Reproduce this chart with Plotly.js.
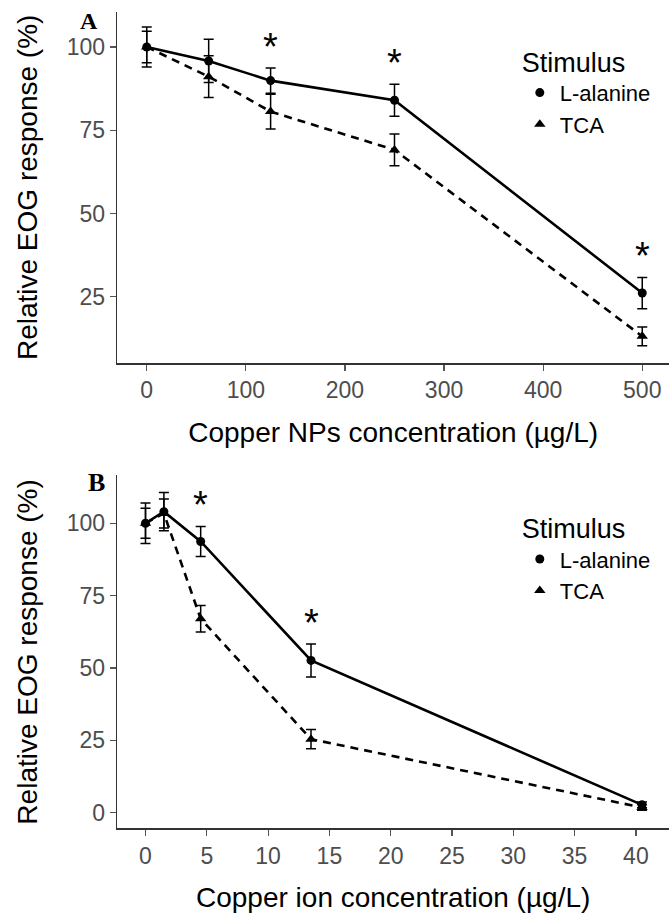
<!DOCTYPE html>
<html>
<head>
<meta charset="utf-8">
<script src="https://cdn.plot.ly/plotly-3.0.1.min.js"></script>
<style>html,body{margin:0;padding:0;background:#fff}#chart{width:669px;height:918px}</style>
</head>
<body>
<div id="chart"></div>
<script>
// Panel A: copper nanoparticles
const concA = [0, 62.5, 125, 250, 500];
const alaA = [100, 95.8, 89.9, 84.0, 26.1];
const alaAse = [6.0, 6.5, 3.8, 4.8, 4.7];
const tcaA = [100, 91.1, 80.6, 69.1, 13.1];
const tcaAse = [4.7, 6.3, 5.2, 4.8, 2.8];
const sigA = [125, 250, 500];
const ticksA = [0, 100, 200, 300, 400, 500];

// Panel B: copper ions
const concB = [0, 1.5, 4.5, 13.5, 40.5];
const alaB = [100, 104.0, 93.7, 52.6, 2.7];
const alaBse = [7.0, 6.6, 5.2, 5.7, 1.0];
const tcaB = [100, 103.4, 67.0, 25.4, 1.8];
const tcaBse = [5.2, 5.0, 4.6, 3.3, 1.0];
const sigB = [4.5, 13.5];
const ticksB = [0, 5, 10, 15, 20, 25, 30, 35, 40];
const ticksY = [0, 25, 50, 75, 100];

const seriesNames = ['L-alanine', 'TCA'];

const FONT = '"Liberation Sans", Arial, sans-serif';
const INK = '#000';

function panel(x, ala, alaSe, tca, tcaSe, xa, ya, leg) {
  const mk = (y, se, name, sym, size, dash) => [
    {x: x, y: y, type: 'scatter', mode: 'lines', xaxis: xa, yaxis: ya,
     line: {color: INK, width: 2.6, dash: dash}, showlegend: false, hoverinfo: 'skip'},
    {x: x, y: y, type: 'scatter', mode: 'markers', name: name, xaxis: xa, yaxis: ya,
     legend: leg, showlegend: true,
     marker: {color: INK, symbol: sym, size: size},
     error_y: {type: 'data', array: se, visible: true, color: INK, thickness: 1.5, width: 5}}
  ];
  return mk(tca, tcaSe, seriesNames[1], 'triangle-up', 10, '8px,6px')
    .concat(mk(ala, alaSe, seriesNames[0], 'circle', 9, 'solid'));
}

const traces = []
  .concat(panel(concA, alaA, alaAse, tcaA, tcaAse, 'x', 'y', 'legend'))
  .concat(panel(concB, alaB, alaBse, tcaB, tcaBse, 'x2', 'y2', 'legend2'));
traces.forEach(t => { if (t.name === 'L-alanine') t.legendrank = 1; if (t.name === 'TCA') t.legendrank = 2; });

function stars(sig, x, ala, se, tca, tse, xref, yref) {
  return sig.map(s => {
    const i = x.indexOf(s);
    const top = Math.max(ala[i] + se[i], tca[i] + tse[i]);
    return {x: s, y: top, xref: xref, yref: yref, text: '*', showarrow: false,
            yanchor: 'middle', yshift: 21,
            font: {family: FONT, size: 38, color: INK}};
  });
}

const axisCommon = {
  showgrid: false, zeroline: false, showline: true, linecolor: '#333', linewidth: 1.6,
  ticks: 'outside', ticklen: 6, tickwidth: 1.2, tickcolor: '#555',
  tickfont: {family: FONT, size: 23, color: '#4d4d4d'}, fixedrange: true
};

const yTitle = {text: 'Relative EOG response (%)', font: {family: FONT, size: 28, color: INK}, standoff: 21};

const layout = {
  width: 669, height: 918,
  margin: {l: 0, r: 0, t: 0, b: 0},
  paper_bgcolor: '#fff', plot_bgcolor: '#fff',
  font: {family: FONT, color: INK},
  xaxis: Object.assign({}, axisCommon, {domain: [0.17534, 1], range: [-29.7, 527], tickvals: ticksA,
    anchor: 'y', title: {text: 'Copper NPs concentration (µg/L)', font: {family: FONT, size: 28, color: INK}, standoff: 20}}),
  yaxis: Object.assign({}, axisCommon, {domain: [0.6046, 0.98725], range: [5.1, 110.6], tickvals: ticksY.slice(1),
    anchor: 'x', title: yTitle}),
  xaxis2: Object.assign({}, axisCommon, {domain: [0.17534, 1], range: [-2.3, 42.7], tickvals: ticksB,
    anchor: 'y2', title: {text: 'Copper ion concentration (µg/L)', font: {family: FONT, size: 28, color: INK}, standoff: 20}}),
  yaxis2: Object.assign({}, axisCommon, {domain: [0.09771, 0.48203], range: [-5.4, 116.5], tickvals: ticksY,
    anchor: 'x2', title: Object.assign({}, yTitle)}),
  legend: {x: 0.777, y: 0.960, xanchor: 'left', yanchor: 'top', bgcolor: 'rgba(0,0,0,0)',
    title: {text: 'Stimulus', font: {family: FONT, size: 27, color: INK}},
    font: {family: FONT, size: 22, color: INK}, traceorder: 'normal', itemwidth: 30},
  legend2: {x: 0.777, y: 0.452, xanchor: 'left', yanchor: 'top', bgcolor: 'rgba(0,0,0,0)',
    title: {text: 'Stimulus', font: {family: FONT, size: 27, color: INK}},
    font: {family: FONT, size: 22, color: INK}, traceorder: 'normal', itemwidth: 30},
  annotations: [
    {x: 0.133, y: 0.9768, xref: 'paper', yref: 'paper', text: '<b>A</b>', showarrow: false,
     xanchor: 'center', yanchor: 'middle', font: {family: '"Liberation Serif", "Times New Roman", serif', size: 24, color: INK}},
    {x: 0.1435, y: 0.4739, xref: 'paper', yref: 'paper', text: '<b>B</b>', showarrow: false,
     xanchor: 'center', yanchor: 'middle', font: {family: '"Liberation Serif", "Times New Roman", serif', size: 26, color: INK}}
  ].concat(stars(sigA, concA, alaA, alaAse, tcaA, tcaAse, 'x', 'y'))
   .concat(stars(sigB, concB, alaB, alaBse, tcaB, tcaBse, 'x2', 'y2'))
};

Plotly.newPlot('chart', traces, layout, {displayModeBar: false, staticPlot: true});
</script>
</body>
</html>
